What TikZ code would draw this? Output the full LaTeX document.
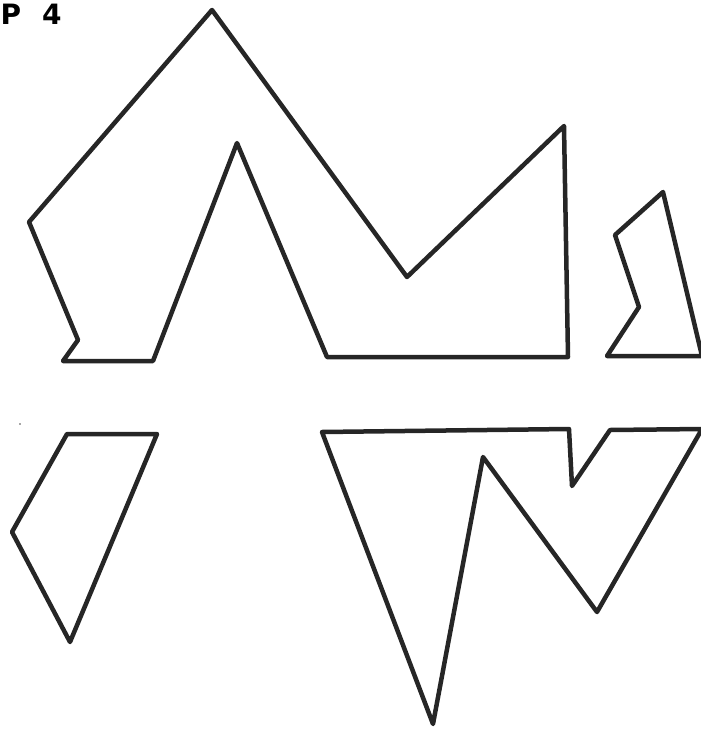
\documentclass[tikz,border=0pt]{standalone}
\usepackage{fontspec}
\setmainfont{DejaVu Sans}
\begin{document}
\begin{tikzpicture}[x=1pt,y=-1pt,
  piece/.style={draw=black!85,line width=4.5pt,line join=round,line cap=round},
  lbl/.style={font=\bfseries\fontsize{28}{28}\selectfont,inner sep=0pt,anchor=base west}]
\useasboundingbox (0,0) rectangle (701,731);
\clip (0,0) rectangle (701,731);
% label
\node[lbl] (p) at (0.5,24) {P};
\node[lbl] (four) at (42,24) {4};
% big top piece
\draw[piece] (212,10) -- (407,277) -- (564,126) -- (568,357) -- (327,357)
  -- (237,143) -- (153,361) -- (63,361) -- (78,340) -- (29,222) -- cycle;
% small right piece
\draw[piece] (663,192) -- (702,356) -- (607,356) -- (639,307) -- (615,235) -- cycle;
% left quadrilateral
\draw[piece] (67,434) -- (157,434) -- (70,642) -- (12,532) -- cycle;
\fill[black!70] (20,424) circle (0.8);
% W piece
\draw[piece] (322,432) -- (569,429) -- (572,486) -- (610,430) -- (702,429)
  -- (597,612) -- (483,457) -- (433,724) -- cycle;
\end{tikzpicture}
\end{document}
